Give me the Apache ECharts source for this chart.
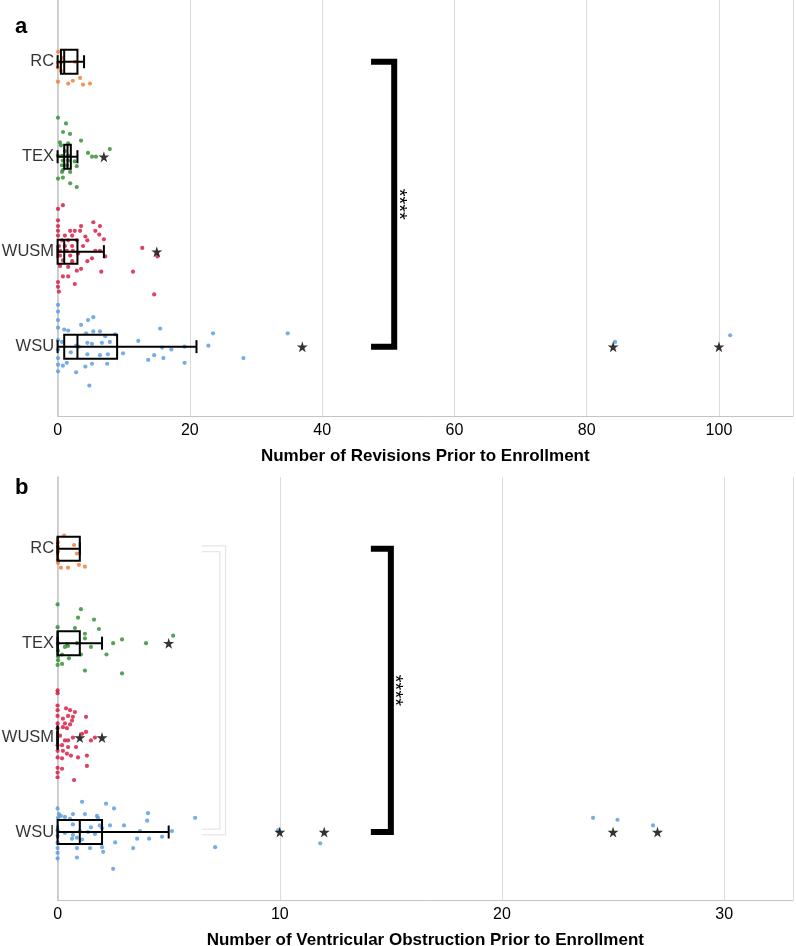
<!DOCTYPE html>
<html><head><meta charset="utf-8">
<script src="https://cdn.jsdelivr.net/npm/echarts@6/dist/echarts.min.js"></script>
<style>html,body{margin:0;padding:0;background:#fff}#c{width:796px;height:946px}</style>
</head><body><div id="c"></div>
<script>
// categories from bottom (position 1) to top (position 4)
const categories = ['WSU', 'WUSM', 'TEX', 'RC'];
const catColors = ['#5599E0', '#D5113C', '#2E8B2E', '#EF7A35'];

// Panel a: Number of Revisions Prior to Enrollment
const revTitle = 'Number of Revisions Prior to Enrollment';
const revTicks = [0, 20, 40, 60, 80, 100];
// box stats [min, q1, median, q3, max] in category order
const revBox = [[0, 1, 3, 9, 21], [0, 0, 1, 3, 7], [0, 1, 1.5, 2, 3], [0, 0.5, 1, 3, 4]];
const revOutliers = [['TEX', 7], ['WUSM', 15], ['WSU', 37], ['WSU', 84], ['WSU', 100]];
// jittered points [value, vertical jitter]
const revWSU = [[0.06,0.44],[0.06,0.37],[0.06,0.28],[0.06,0.2],[0.06,0.07],[0.06,-0.03],[0.06,-0.12],[0.06,-0.19],[0.06,-0.26],
  [4.6,0.28],[5.4,0.31],[3.55,0.23],[1.0,0.18],[1.6,0.17],[4.3,0.14],[5.4,0.16],[6.4,0.16],[7.2,0.11],[8.7,0.13],
  [0.67,0.05],[2.8,0.01],[3.2,0],[4.5,0.04],[5.2,0.03],[6.7,0.04],[7.9,0.05],[12.2,0.06],[15.5,0.19],[15.8,-0.01],
  [19.2,0],[17.2,-0.03],[2.0,-0.06],[4.5,-0.08],[6.4,-0.09],[7.6,-0.08],[9.9,-0.07],[14.6,-0.09],[16.0,-0.12],[13.7,-0.14],
  [1.4,-0.17],[0.8,-0.2],[5.2,-0.18],[7.5,-0.18],[4.2,-0.21],[19.2,-0.17],[2.8,-0.27],[4.8,-0.41],
  [22.8,0.01],[23.5,0.14],[28.1,-0.12],[34.8,0.14],[84.3,0.05],[101.7,0.12]];
const revWUSM = [[0.06,0.45],[0.8,0.49],[0.06,0.33],[0.06,0.27],[0.06,0.22],[0.06,0.17],[3.55,0.27],[5.4,0.31],[6.4,0.27],
  [5.7,0.22],[6.3,0.18],[1.9,0.22],[2.6,0.22],[3.4,0.22],[1.1,0.17],[2.2,0.17],[4.2,0.16],[4.5,0.12],[7.0,0.13],
  [0.67,0.12],[1.6,0.12],[2.9,0.12],[0.2,0.06],[1.1,0.06],[2.2,0.06],[3.85,0.06],[0.36,0.01],[1.4,0.01],[2.3,0.01],
  [5.7,0.01],[6.4,0.01],[12.8,0.04],[15.1,-0.05],[0.36,-0.04],[1.9,-0.04],[3.1,-0.02],[5.2,-0.07],[7.2,-0.05],
  [0.8,-0.09],[2.2,-0.1],[4.5,-0.1],[0.36,-0.15],[1.6,-0.16],[2.9,-0.2],[3.55,-0.18],[6.6,-0.21],[11.4,-0.21],
  [0.8,-0.26],[1.6,-0.26],[2.6,-0.34],[0.2,-0.42],[0.06,-0.32],[0.06,-0.37],[14.6,-0.45]];
const revTEX = [[0.06,0.41],[1.27,0.35],[0.82,0.26],[1.88,0.24],[3.55,0.17],[0.36,0.15],[0.5,0.12],[1.6,0.14],[1.1,0.06],
  [0.06,0.01],[0.67,0.01],[1.6,0.01],[4.6,0.04],[5.2,0],[5.8,0],[7.9,0.08],[0.8,-0.04],[1.6,-0.04],[2.6,-0.05],
  [0.67,-0.09],[1.4,-0.09],[0.8,-0.14],[0.67,-0.16],[1.9,-0.16],[2.9,-0.1],[0.06,-0.23],[0.8,-0.22],[1.9,-0.28],[2.9,-0.32]];
const revRC = [[0.06,0.105],[0.67,0.04],[0.5,-0.01],[0.06,-0.01],[2.6,0],[0.5,-0.095],[0.06,-0.06],[0.06,-0.21],
  [1.6,-0.23],[2.3,-0.2],[3.4,-0.17],[3.85,-0.24],[4.9,-0.23]];

// Panel b: Number of Ventricular Obstruction Prior to Enrollment
const obsTitle = 'Number of Ventricular Obstruction Prior to Enrollment';
const obsTicks = [0, 10, 20, 30];
const obsBox = [[0, 0, 1, 2, 5], [0, 0, 0, 0, 0], [0, 0, 0, 1, 2], [0, 0, 0, 1, 1]];
const obsOutliers = [['TEX', 5], ['WUSM', 1], ['WUSM', 2], ['WSU', 10], ['WSU', 12], ['WSU', 25], ['WSU', 27]];
const obsWSU = [[0,0.25],[0.06,0.19],[0.15,0.17],[0.02,0.15],[0.33,0.16],[0.56,0.14],[0.69,0.19],[1.1,0.32],[1.23,0.19],
  [1.77,0.17],[1.82,0.15],[2.18,0.3],[2.54,0.25],[4.07,0.2],[4.03,0.12],[6.19,0.15],[0.69,0.08],[1.5,0.05],[1.9,0.07],
  [2.36,0.07],[2.99,0.07],[0.33,-0.01],[0.69,-0.03],[1.0,0.01],[1.37,0],[1.68,-0.02],[2.0,0.04],[3.71,0.01],[5.15,0.01],
  [0.65,-0.07],[1.1,-0.08],[0.87,-0.06],[0.87,-0.17],[1.46,-0.17],[2.0,-0.16],[2.05,-0.21],[2.59,-0.11],[3.4,-0.17],
  [3.58,-0.07],[4.12,-0.07],[4.7,-0.05],[0.87,-0.27],[2.5,-0.39],[0,0.02],[0,-0.04],[0,-0.11],[0,-0.17],[0,-0.22],[0,-0.28],
  [7.09,-0.16],[9.93,0.02],[11.82,-0.12],[24.1,0.15],[25.2,0.13],[26.8,0.07]];
const obsWUSM = [[0,0.5],[0,0.47],[0,0.34],[0,0.29],[0,0.23],[0,0.15],[0,0.1],[0,-0.08],[0,-0.14],[0,-0.21],[0,-0.32],
  [0,-0.37],[0,-0.42],[0.38,0.31],[0.56,0.29],[0.78,0.27],[0.47,0.23],[0.69,0.22],[0.24,0.2],[0.65,0.18],[1.28,0.22],
  [0.33,0.15],[0.56,0.14],[0.24,0.11],[0.42,0.1],[1.1,0.04],[1.28,0.06],[0.69,0],[0.11,0.02],[0.33,-0.03],[0.47,-0.03],
  [1.5,-0.03],[1.68,0],[0.2,-0.08],[0.47,-0.1],[0.83,-0.1],[0.24,-0.14],[0.42,-0.17],[0.6,-0.19],[0.92,-0.21],
  [1.32,-0.19],[0.2,-0.22],[1.32,-0.3],[0.2,-0.33],[0.74,-0.45]];
const obsTEX = [[0,0.41],[1.05,0.36],[0.92,0.27],[1.64,0.25],[1.86,0.15],[0.78,0.16],[0,0.17],[1.23,0.1],[1.23,0.05],
  [0.02,0],[0.42,-0.01],[0.33,-0.04],[0.47,-0.03],[1.5,-0.04],[2.5,0],[2.9,0.04],[3.98,0],[5.2,0.08],[0.87,0],
  [0.02,-0.08],[0.2,-0.12],[0.02,-0.14],[0.51,-0.16],[1.05,-0.12],[2.2,-0.12],[0.02,-0.18],[0.2,-0.22],[0,-0.23],
  [1.23,-0.29],[2.9,-0.32]];
const obsRC = [[0.29,0.14],[0.02,0.07],[0.02,0.02],[0.74,0.04],[0.87,-0.05],[0.02,-0.03],[0.02,-0.12],[0.02,-0.15],
  [0.15,-0.2],[0.47,-0.2],[0.96,-0.17],[1.23,-0.19]];

// significance brackets [xArm, xBar, fromCat, toCat]
const revBracket = [47.4, 50.9, 'RC', 'WSU'];
const obsBracket = [14.1, 15.0, 'RC', 'WSU'];
const obsFaintBracket = [6.5, 7.43, 'RC', 'WSU'];
const sigText = '****';

const FONT = "'Liberation Sans', Arial, sans-serif";
const pos = c => categories.indexOf(c) + 1;
const STAR = 'path://M50,0 L61,35 L98,35 L68,57 L79,91 L50,70 L21,91 L32,57 L2,35 L39,35 Z';

function boxRender(params, api) {
  const y = api.value(0);
  const p = [1,2,3,4,5].map(i => api.coord([api.value(i), y]));
  const cy = p[0][1], hb = 12, hc = 6.5;
  const st = {stroke: '#000', lineWidth: 2, fill: 'transparent'};
  return {type: 'group', children: [
    {type: 'line', shape: {x1: p[0][0], y1: cy, x2: p[4][0], y2: cy}, style: st},
    {type: 'line', shape: {x1: p[0][0], y1: cy - hc, x2: p[0][0], y2: cy + hc}, style: st},
    {type: 'line', shape: {x1: p[4][0], y1: cy - hc, x2: p[4][0], y2: cy + hc}, style: st},
    {type: 'rect', shape: {x: p[1][0], y: cy - hb, width: p[3][0] - p[1][0], height: 2 * hb}, style: st},
    {type: 'line', shape: {x1: p[2][0], y1: cy - hb, x2: p[2][0], y2: cy + hb}, style: st}
  ]};
}

function bracketRender(kind) {
  return function (params, api) {
    const xa = api.value(0), xb = api.value(1), y1 = api.value(2), y2 = api.value(3);
    const pts = [api.coord([xa, y1]), api.coord([xb, y1]), api.coord([xb, y2]), api.coord([xa, y2])];
    if (kind === 'faint') {
      return {type: 'group', children: [
        {type: 'polyline', shape: {points: pts}, style: {stroke: '#e6e6e6', lineWidth: 7, fill: null, lineJoin: 'miter'}},
        {type: 'polyline', shape: {points: pts}, style: {stroke: '#ffffff', lineWidth: 4.5, fill: null, lineJoin: 'miter'}}
      ]};
    }
    const mid = api.coord([xb, (y1 + y2) / 2]);
    return {type: 'group', children: [
      {type: 'polyline', shape: {points: pts}, style: {stroke: '#000', lineWidth: 6, fill: null, lineJoin: 'miter'}},
      {type: 'text', x: mid[0] + 4, y: mid[1], rotation: -Math.PI / 2,
        style: {text: sigText, fontSize: 20, fontFamily: FONT, fill: '#000', align: 'center', verticalAlign: 'middle'}}
    ]};
  };
}

function panelSeries(idx, box, pts, outliers, brackets) {
  const s = [];
  pts.forEach((arr, ci) => {
    s.push({type: 'scatter', xAxisIndex: idx, yAxisIndex: idx, symbolSize: 4.2, z: 2,
      itemStyle: {color: catColors[ci]}, data: arr.map(d => [d[0], ci + 1 + d[1]]), silent: true});
  });
  s.push({type: 'custom', xAxisIndex: idx, yAxisIndex: idx, z: 3, renderItem: boxRender,
    data: box.map((b, ci) => [ci + 1].concat(b)), silent: true});
  s.push({type: 'scatter', xAxisIndex: idx, yAxisIndex: idx, symbol: STAR, symbolSize: 11, z: 4,
    itemStyle: {color: '#000'}, data: outliers.map(o => [o[1], pos(o[0])]), silent: true});
  s.push({type: 'scatter', xAxisIndex: idx, yAxisIndex: idx, symbolSize: 1, z: 4,
    itemStyle: {color: 'rgba(0,0,0,0)'},
    label: {show: true, position: 'left', distance: 3, formatter: p => categories[p.dataIndex],
      fontSize: 16.5, fontFamily: FONT, color: '#000'},
    data: categories.map((c, i) => [0, i + 1]), silent: true});
  brackets.forEach(b => {
    s.push({type: 'custom', xAxisIndex: idx, yAxisIndex: idx, z: b.kind === 'faint' ? 1 : 5,
      renderItem: bracketRender(b.kind), data: [[b.v[0], b.v[1], pos(b.v[2]), pos(b.v[3])]], silent: true});
  });
  return s;
}

function xAxisCfg(idx, max, interval, name) {
  return {type: 'value', gridIndex: idx, min: 0, max: max, interval: interval,
    name: name, nameLocation: 'middle', nameGap: 32,
    nameTextStyle: {fontSize: 17, fontWeight: 'bold', fontFamily: FONT, color: '#000'},
    axisLine: {show: true, lineStyle: {color: '#c4c4c4', width: 1}},
    axisTick: {show: false},
    axisLabel: {fontSize: 16, fontFamily: FONT, color: '#000', margin: 7,
      formatter: v => (idx === 0 ? revTicks : obsTicks).indexOf(v) >= 0 ? String(v) : ''},
    splitLine: {show: true, lineStyle: {color: '#dcdcdc', width: 1}}};
}
function yAxisCfg(idx, min, max) {
  return {type: 'value', gridIndex: idx, min: min, max: max,
    axisLine: {show: true, lineStyle: {color: '#c4c4c4', width: 1.5}},
    axisTick: {show: false}, axisLabel: {show: false}, splitLine: {show: false}};
}

const chart = echarts.init(document.getElementById('c'), null, {renderer: 'canvas'});
chart.setOption({
  animation: false,
  backgroundColor: '#fff',
  grid: [
    {left: 57.6, right: 3, top: 0, height: 416, outerBoundsMode: 'none', containLabel: false},
    {left: 57.6, right: 3, top: 477, height: 423, outerBoundsMode: 'none', containLabel: false}
  ],
  xAxis: [xAxisCfg(0, 111.2, 20, revTitle), xAxisCfg(1, 33.1, 10, obsTitle)],
  yAxis: [yAxisCfg(0, 0.27, 4.65), yAxisCfg(1, 0.28, 4.76)],
  graphic: [
    {type: 'text', left: 15, top: 16, style: {text: 'a', fontSize: 22, fontWeight: 'bold', fontFamily: FONT, fill: '#000'}},
    {type: 'text', left: 15, top: 477, style: {text: 'b', fontSize: 22, fontWeight: 'bold', fontFamily: FONT, fill: '#000'}}
  ],
  series: [].concat(
    panelSeries(0, revBox, [revWSU, revWUSM, revTEX, revRC], revOutliers, [{kind: 'solid', v: revBracket}]),
    panelSeries(1, obsBox, [obsWSU, obsWUSM, obsTEX, obsRC], obsOutliers,
      [{kind: 'faint', v: obsFaintBracket}, {kind: 'solid', v: obsBracket}])
  )
});
</script></body></html>
